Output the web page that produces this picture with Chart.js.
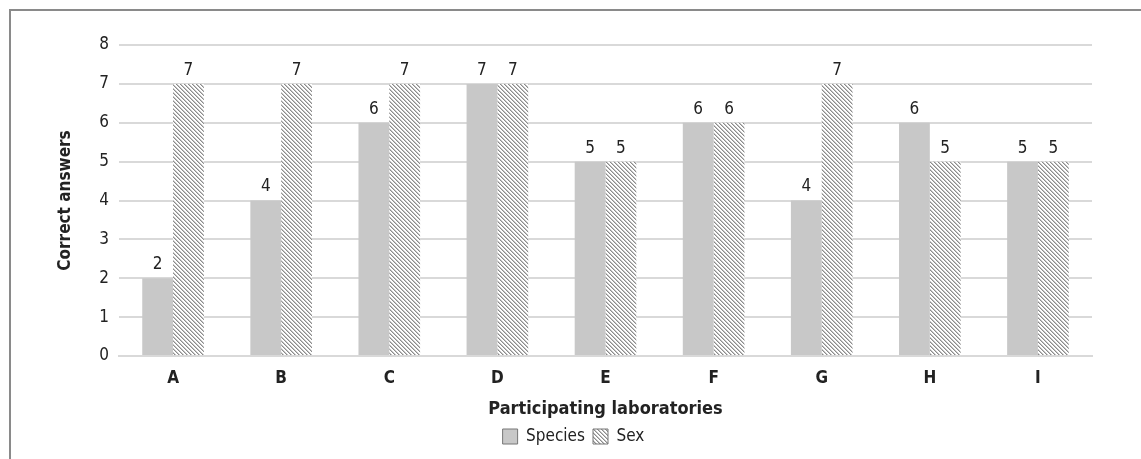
<!DOCTYPE html>
<html>
<head>
<meta charset="utf-8">
<script src="https://cdn.jsdelivr.net/npm/chart.js@4"></script>
<style>
  html, body { margin: 0; padding: 0; background: #fff; overflow: hidden; }
  #wrap { position: relative; width: 1141px; height: 459px; }
  #frame { position: absolute; left: 9px; top: 9px; width: 1200px; height: 500px;
           border: 2px solid #8a8a8a; box-sizing: border-box; }
  canvas { position: absolute; left: 0; top: 0; }
</style>
</head>
<body>
<div id="wrap">
  <div id="frame"></div>
  <canvas id="chart" width="1141" height="459"></canvas>
</div>
<script>
var labs = ['A', 'B', 'C', 'D', 'E', 'F', 'G', 'H', 'I'];
var speciesVals = [2, 4, 6, 7, 5, 6, 4, 6, 5];
var sexVals = [7, 7, 7, 7, 5, 6, 7, 5, 5];
var yTicks = [0, 1, 2, 3, 4, 5, 6, 7, 8];

var FONT = "'Liberation Sans Narrow', 'DejaVu Sans Condensed', 'Roboto', sans-serif";

// diagonal hatch (\\\) for the "Sex" series, drawn pixel by pixel to avoid blur
function makeHatch() {
    var c = document.createElement('canvas');
    c.width = 4; c.height = 4;
    var g = c.getContext('2d');
    g.fillStyle = '#ffffff';
    g.fillRect(0, 0, 4, 4);
    for (var y = 0; y < 4; y++) {
        for (var x = 0; x < 4; x++) {
            var d = ((x - y) % 4 + 4) % 4;
            if (d === 0) { g.fillStyle = '#8c8c8c'; g.fillRect(x, y, 1, 1); }
            else if (d === 1) { g.fillStyle = '#c4c4c4'; g.fillRect(x, y, 1, 1); }
        }
    }
    return g.createPattern(c, 'repeat');
}

// value labels above the bars
var valueLabels = {
    id: 'valueLabels',
    afterDatasetsDraw: function(chart) {
        var ctx = chart.ctx;
        ctx.save();
        ctx.font = '17px ' + FONT;
        ctx.fillStyle = '#222';
        ctx.textAlign = 'center';
        ctx.textBaseline = 'bottom';
        chart.data.datasets.forEach(function(ds, i) {
            chart.getDatasetMeta(i).data.forEach(function(bar, j) {
                ctx.fillText(ds.data[j], bar.x, bar.y - 5);
            });
        });
        ctx.restore();
    }
};

new Chart(document.getElementById('chart'), {
    type: 'bar',
    data: {
        labels: labs,
        datasets: [{
            label: 'Species',
            data: speciesVals,
            backgroundColor: '#c8c8c8',
            borderWidth: 0
        }, {
            label: 'Sex',
            data: sexVals,
            backgroundColor: makeHatch(),
            borderWidth: 0
        }]
    },
    options: {
        responsive: false,
        animation: false,
        devicePixelRatio: 1,
        layout: { padding: { left: 55, right: 49, top: 45, bottom: 4 } },
        datasets: { bar: { categoryPercentage: 0.57, barPercentage: 1.0 } },
        plugins: {
            legend: {
                position: 'bottom',
                labels: {
                    color: '#222',
                    font: { family: FONT, size: 17 },
                    boxWidth: 15,
                    boxHeight: 15,
                    padding: 8,
                    generateLabels: function(chart) {
                        return chart.data.datasets.map(function(ds, i) {
                            return {
                                text: ds.label,
                                fillStyle: ds.backgroundColor,
                                strokeStyle: '#777',
                                lineWidth: 1,
                                datasetIndex: i,
                                fontColor: '#222'
                            };
                        });
                    }
                }
            },
            tooltip: { enabled: false }
        },
        scales: {
            x: {
                grid: { display: false },
                border: { color: '#d9d9d9', width: 2 },
                ticks: { color: '#222', font: { family: FONT, size: 17, weight: 'bold' }, padding: 4 },
                title: {
                    display: true,
                    text: 'Participating laboratories',
                    color: '#222',
                    font: { family: FONT, size: 18, weight: 'bold' },
                    padding: { top: 6, bottom: 0 }
                }
            },
            y: {
                min: 0,
                max: 8,
                afterBuildTicks: function(scale) {
                    scale.ticks = yTicks.map(function(v) { return { value: v }; });
                },
                afterFit: function(scale) { scale.width = 64; },
                grid: { color: '#d9d9d9', lineWidth: 2, drawTicks: false },
                border: { display: false },
                ticks: { color: '#222', font: { family: FONT, size: 17 }, padding: 10 },
                title: {
                    display: true,
                    text: 'Correct answers',
                    color: '#222',
                    font: { family: FONT, size: 17, weight: 'bold' },
                    padding: { top: 0, bottom: 0 }
                }
            }
        }
    },
    plugins: [valueLabels]
});
</script>
</body>
</html>
